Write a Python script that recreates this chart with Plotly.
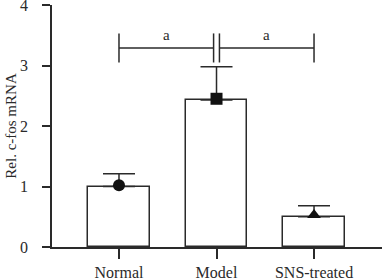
import plotly.graph_objects as go

categories = ["Normal", "Model", "SNS-treated"]
means = [1.0, 2.43, 0.5]
sem_up = [0.21, 0.55, 0.18]
marker_vals = [1.02, 2.45, 0.53]
marker_symbols = ["circle", "square", "triangle-up"]
sig_label = "a"
sig_height = 3.29

FONT = "Liberation Serif, Times New Roman, serif"
INK = "#2a2a2a"

x_idx = list(range(len(categories)))

fig = go.Figure()
fig.add_trace(go.Bar(
    x=x_idx, y=means, width=0.635,
    marker=dict(color="white", line=dict(color=INK, width=1.5)),
    error_y=dict(type="data", array=sem_up, arrayminus=[0]*3, symmetric=False,
                 color=INK, thickness=1.5, width=16),
    showlegend=False,
))
fig.add_trace(go.Scatter(
    x=x_idx, y=marker_vals, mode="markers",
    marker=dict(symbol=marker_symbols, size=12, color="#111111"),
    showlegend=False,
))

# significance brackets
gap = 0.03
tick_h = 0.24
for (a, b) in [(0, 1), (1, 2)]:
    x0 = a + (gap if a == 1 else 0)
    x1 = b - (gap if b == 1 else 0)
    fig.add_shape(type="line", x0=x0, x1=x1, y0=sig_height, y1=sig_height,
                  line=dict(color=INK, width=1.5))
    for xv in (x0, x1):
        fig.add_shape(type="line", x0=xv, x1=xv, y0=sig_height - tick_h, y1=sig_height + tick_h,
                      line=dict(color=INK, width=1.5))
    fig.add_annotation(x=(x0 + x1) / 2, y=sig_height + 0.05, text=sig_label, showarrow=False,
                       yanchor="bottom", font=dict(family=FONT, size=15, color=INK))

fig.update_layout(
    width=382, height=279,
    margin=dict(l=52, r=0, t=5, b=32),
    plot_bgcolor="white", paper_bgcolor="white",
    font=dict(family=FONT, size=15, color=INK),
    bargap=0,
)
fig.update_xaxes(
    range=[-0.687, 2.697], tickvals=x_idx, ticktext=categories,
    showline=True, linecolor=INK, linewidth=1.5,
    ticks="outside", ticklen=10, tickwidth=1.5, tickcolor=INK,
    showgrid=False, zeroline=False, tickfont=dict(size=16),
    automargin=False, ticklabelstandoff=0, ticklabeloverflow="allow",
)
fig.update_yaxes(
    range=[0, 4], tickvals=[0, 1, 2, 3, 4],
    showline=True, linecolor=INK, linewidth=1.5,
    ticks="outside", ticklen=8, tickwidth=1.5, tickcolor=INK,
    showgrid=False, zeroline=False, tickfont=dict(size=16),
    ticklabelstandoff=11, automargin=False, ticklabeloverflow="allow",
    title=dict(text="Rel. c-fos mRNA", font=dict(size=15), standoff=0),
)

fig.write_html(
    "out.html",
    config={"displayModeBar": False},
    post_script="document.body.style.margin='0';document.body.style.overflow='hidden';",
)
